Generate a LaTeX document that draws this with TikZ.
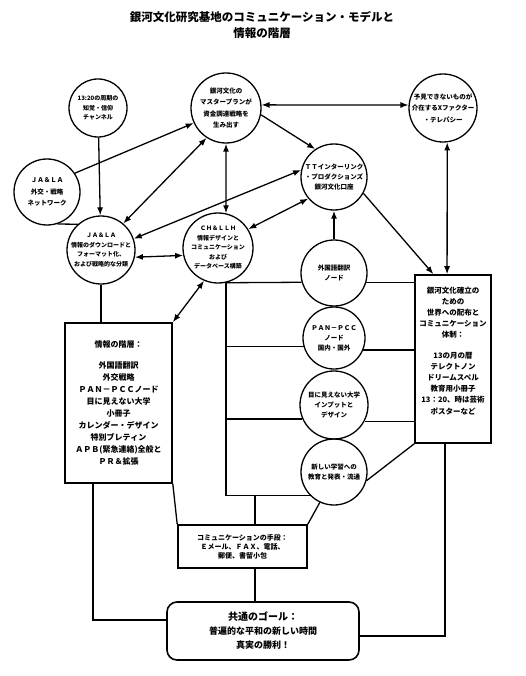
\documentclass[tikz,border=0pt]{standalone}
\usepackage{fontspec}
\setmainfont{Noto Sans CJK JP}
\usetikzlibrary{shapes,calc,arrows.meta}
\newcommand{\ringfont}{\bfseries\fontsize{6.5}{11.5}\selectfont}
\newcommand{\ringtight}{\bfseries\fontsize{6}{9.5}\selectfont}
\newcommand{\colfont}{\bfseries\fontsize{6.5}{10}\selectfont}
\newcommand{\boxfont}{\bfseries\fontsize{8}{12}\selectfont}
\newcommand{\commfont}{\bfseries\fontsize{7}{9}\selectfont}
\newcommand{\goalfont}{\bfseries\fontsize{9}{14}\selectfont}

\begin{document}
\begin{tikzpicture}[x=1pt,y=-1pt,line width=1.3pt,
  >={Latex[length=8pt,width=6pt]},
  ring/.style={draw,circle,align=center,inner sep=-10pt,minimum size=#1},
  ring/.default=66,
  infobox/.style={draw,rectangle,align=center,inner sep=0pt,line width=1.6pt}]
  \useasboundingbox (0,0) rectangle (525,676);
  \node[align=center,font=\bfseries\fontsize{11.5}{16}\selectfont] (title) at (262,25)
  {銀河文化研究基地のコミュニケーション・モデルと\\情報の階層};
  % circles, upper part
  \node[ring=58,font=\ringtight] (A) at (98,108) {13:20の周期の\\知覚・信仰\\チャンネル};
  \node[ring=70,font=\ringfont] (B) at (226,108)
  {銀河文化の\\マスタープランが\\資金調達戦略を\\生み出す};
  \node[ring=68,font=\ringfont] (C) at (443,108)
  {予見できないものが\\介在するXファクター\\・テレパシー};
  \node[ring=66,font=\ringfont] (D) at (47,192) {ＪＡ＆ＬＡ\\外交・戦略\\ネットワーク};
  \node[ring=66,font=\colfont] (E) at (334,177)
  {ＴＴインターリンク\\・プロダクションズ\\銀河文化口座};
  \node[ring=68,font=\ringtight] (F) at (101,250)
  {ＪＡ＆ＬＡ\\情報のダウンロードと\\フォーマット化、\\および戦略的な分類};
  \node[ring=70,font=\ringtight] (G) at (218,248)
  {ＣＨ＆ＬＬＨ\\情報デザインと\\コミュニケーション\\および\\データベース構築};
  % node column
  \node[ring=66,font=\colfont] (H) at (334,273) {外国語翻訳\\ノード};
  \node[ring=62,font=\colfont] (I) at (334,338) {ＰＡＮ－ＰＣＣ\\ノード\\国内・国外};
  \node[ring=68,font=\colfont] (J) at (334,405) {目に見えない大学\\インプットと\\デザイン};
  \node[ring=66,font=\colfont] (K) at (334,472) {新しい学習への\\教育と発表・流通};
  % boxes
  \node[infobox,minimum width=107,minimum height=160,font=\boxfont] (levels) at (118.5,403)
  {情報の階層：\\[9pt]外国語翻訳\\外交戦略\\ＰＡＮ－ＰＣＣノード\\目に見えない大学\\小冊子\\
    カレンダー・デザイン\\特別ブレティン\\ＡＰＢ(緊急連絡)全般と\\ＰＲ＆拡張};
  \node[infobox,minimum width=76,minimum height=168,font=\bfseries\fontsize{7.5}{11.2}\selectfont] (dist) at (453,359)
  {銀河文化確立の\\ための\\世界への配布と\\コミュニケーション\\体制：\\[9pt]
    13の月の暦\\テレクトノン\\ドリームスペル\\教育用小冊子\\13：20、時は芸術\\ポスターなど\\[6pt]};
  \node[infobox,minimum width=129,minimum height=43,font=\commfont] (comm) at (242.5,546.5)
  {コミュニケーションの手段：\\Ｅメール、ＦＡＸ、電話、\\郵便、書留小包};
  \node[infobox,rounded corners=10pt,minimum width=192,minimum height=58,font=\goalfont] (goal) at (263,631)
  {{\fontsize{10}{14}\selectfont 共通のゴール：}\\普遍的な平和の新しい時間\\真実の勝利！};
  \coordinate (cj) at (255,495);
  \coordinate (lt) at (93,620);
  \coordinate (rt) at (445,636);
  % arrows
  \path[->] (A) edge (F);
  \path[->] (D.34) edge (B.205);
  \path (D.-72) edge (F.132);
  \path[<->] (B.237) edge (F.50);
  \path[<->] (B.south) edge (G.77);
  \path[->] (B.-11) edge (E.124);
  \path[<->] (B.5) edge (C.175);
  \path[<->] (F.19) edge (E.168);
  \path[<->] (G.32) edge (E.220);
  \path[<->] (F.-12) edge (G.192);
  \path[->] (H) edge (E);
  \path[<->] (G.247) edge (levels.north east);
  \path[->] (E.-29) edge (dist.103);
  \path[<->] (C.-83) edge (dist.94);
  % trunk to the node column
  \draw (G.-77) |- (K.224);
  \draw (G.-77) -- (H.196);
  \draw (G.-77 |- I.196) -- (I.196);
  \draw (G.-77 |- J.204) -- (J.204);
  \draw (H.-16) -- (H.-16 -| dist.west);
  \draw (I.-22) -- (I.-22 -| dist.west);
  \draw (J.-28) -- (J.-28 -| dist.west);
  \draw (K.-15) -- (dist.south west);
  % lines to the bottom
  \draw (F) -- (F |- levels.north);
  \draw (levels.south east) -- (comm.north west);
  \draw (comm.north east) -- (K.-115);
  \draw (cj) -- (cj |- comm.north);
  \draw (cj |- comm.south) -- (cj |- goal.north);
  \draw (levels.south -| lt) |- (goal.west |- lt);
  \draw (goal.east |- rt) -| (dist.south -| rt);
\end{tikzpicture}
\end{document}
